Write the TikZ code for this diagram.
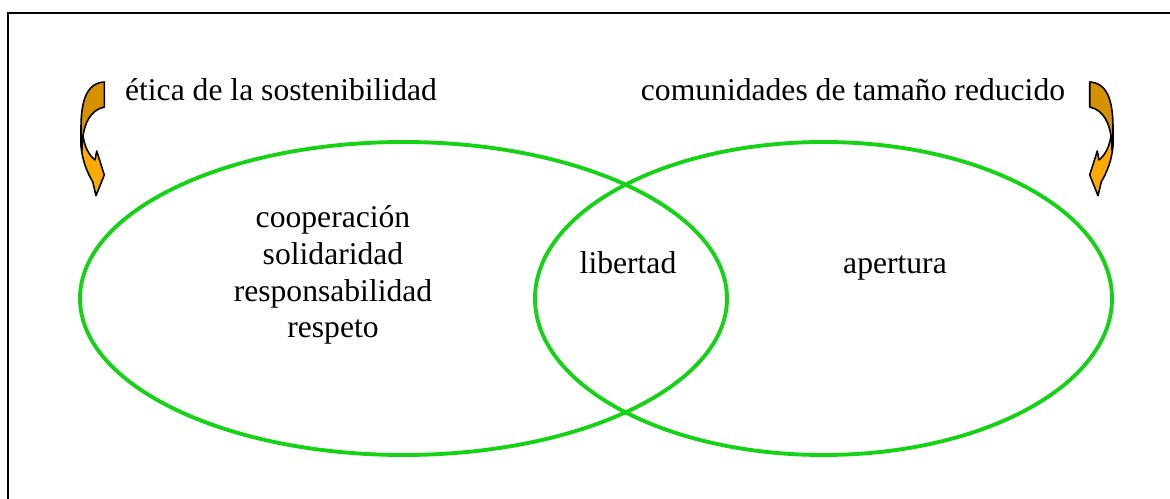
\documentclass[tikz,border=0pt]{standalone}
\usepackage{fontspec}
\setmainfont{Liberation Serif}
\usetikzlibrary{positioning}
\definecolor{vennGreen}{RGB}{20,210,20}
\definecolor{arrowDark}{RGB}{214,145,0}
\definecolor{arrowLight}{RGB}{255,170,0}

\begin{document}
\begin{tikzpicture}[x=0.02cm,y=-0.02cm,font=\fontsize{18}{21}\selectfont]
  \tikzstyle{venn}=[draw=vennGreen,line width=2.2pt]
  \tikzstyle{word}=[inner sep=0pt]
  \tikzstyle{bentpart}=[draw=black,line width=0.9pt,line join=round]
  \tikzset{bentarrow/.pic={
    % lower band with the head
    \filldraw[bentpart,fill=arrowLight] (-11,132) -- (-11,145)
      .. controls (-10,160) and (-5,172) .. (0.7,181.7)
      -- (4,195.7) -- (12.3,175) -- (4.7,151) -- (3,160)
      .. controls (-3,155) and (-8,147) .. (-9.5,132) -- cycle;
    % upper band
    \filldraw[bentpart,fill=arrowDark] (12.3,82) .. controls (-5,83) and (-11,100) .. (-11,128)
      -- (-11,145) -- (-10,150) .. controls (-10,125) and (-2,110) .. (12.3,107) -- cycle;
  }}

  \useasboundingbox (0,0) rectangle (1170,499);
  \draw[line width=1.1pt] (8,499) -- (8,13) -- (1170,13);

  \draw[venn] (403.5,298.5) ellipse [x radius=323.5, y radius=156.5];
  \draw[venn] (823.5,298.5) ellipse [x radius=288.5, y radius=156.5];

  \pic at (92,0) {bentarrow};
  \pic[xscale=-1] at (1102,0) {bentarrow};

  \node[word,anchor=base] (etica) at (281,101) {ética de la sostenibilidad};
  \node[word,anchor=base] (comunidades) at (853,101) {comunidades de tamaño reducido};
  \node[word,align=center] (valores) at (333,275) {cooperación\\solidaridad\\responsabilidad\\respeto};
  \node[word,anchor=base] (libertad) at (628,274) {libertad};
  \node[word,anchor=base] (apertura) at (895,274) {apertura};
\end{tikzpicture}
\end{document}
